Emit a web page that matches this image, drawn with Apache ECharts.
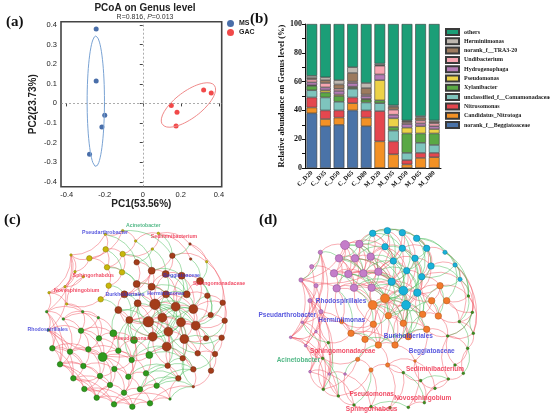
<!DOCTYPE html>
<html>
<head>
<meta charset="utf-8">
<script src="https://cdn.jsdelivr.net/npm/echarts@6/dist/echarts.min.js"></script>
<style>
html,body{margin:0;padding:0;background:#fff;}
#main{width:550px;height:418px;}
</style>
</head>
<body>
<div id="main"></div>
<script>
// ---------- (a) PCoA ----------
var msPts = [[-0.245,0.38],[-0.245,0.115],[-0.2,-0.06],[-0.215,-0.12],[-0.28,-0.26]];
var gacPts = [[0.15,-0.01],[0.18,-0.045],[0.175,-0.115],[0.32,0.068],[0.36,0.053]];
// confidence ellipses: centre, semi-axis a, semi-axis b (data units)
var msEll = {c:[-0.247,0.011], a:[0,0.333], b:[0.0456,0]};
var gacEll = {c:[0.24,-0.008], a:[0.1366,0.0998], b:[0.0421,-0.0542]};
var pcTicks = [-0.4,-0.2,0,0.2,0.4];
var pcYTicks = [-0.4,-0.3,-0.2,-0.1,0,0.1,0.2,0.3,0.4];

// ---------- (b) stacked bars ----------
var samples = ['C_D20','C_D35','C_D50','C_D65','C_D80','M_D20','M_D35','M_D50','M_D65','M_D80'];
var taxa = ['norank_f__Beggiatoaceae','Candidatus_Nitrotoga','Nitrosomonas','unclassified_f__Comamonadaceae',
  'Xylanibacter','Pseudomonas','Hydrogenophaga','Undibacterium','norank_f__TRA3-20','Herminiimonas','others'];
var beggiatoaceae = [38,29,30,40,29,0,0,0,0,0];
var nitrotoga = [4,5,5,5,6,18.5,9.5,2.5,7,7.5];
var nitrosomonas = [7,6,5,4,5,21,9,3,3.5,3];
var comamonadaceae = [5,9,6,6,5.5,5.5,7.5,5,7,5.5];
var xylanibacter = [3,3.5,4,1,2,2,2.5,13.5,6.5,8];
var pseudomonas = [0.5,1.5,1,0.5,0.5,14,6,4,5,3];
var hydrogenophaga = [2,2,2.5,2.5,2,4,2.5,2.5,2,2];
var undibacterium = [2,3,1.5,1,1,6,3.5,1,2,2];
var tra320 = [1,2,3,6,4.5,0.5,2,1,2,1];
var herminiimonas = [1.5,2,3,4,3.5,1,1,0.5,1,1];
var others = [36,37,39,30,41,27.5,56.5,67,64,67];
var taxaValues = [beggiatoaceae,nitrotoga,nitrosomonas,comamonadaceae,xylanibacter,pseudomonas,
  hydrogenophaga,undibacterium,tra320,herminiimonas,others];
var taxaColors = ['#4a73a8','#f39125','#e4474f','#7ec4bd','#5aa845','#ecd248','#b47cb6','#f7a6b1','#9c7a5e','#bfb8b0','#1b9e77'];

// ---------- (c) network: [x, y, degree] in layout units ----------
var cBrown = [[465,298,5],[445,350,5],[487,338,4],[527,305,4],[543,352,4],[505,380,4],[580,312,4],[587,362,4],
  [553,402,4],[458,395,4],[500,425,4],[455,197,3],[410,237,3],[455,245,3],[497,207,3],[560,268,3],[413,295,3],
  [355,315,3],[388,345,3],[410,172,2],[517,152,2],[545,212,3],[600,228,3],[622,272,2],[668,293,2],[632,330,2],
  [674,347,2],[618,400,2],[665,398,2],[548,460,2],[593,445,2],[645,447,2],[503,482,2],[580,493,2],[633,497,2],
  [535,520,2],[580,545,1],[572,162,1],[570,117,1],[373,268,3],[498,268,3]];
var cYellow = [[368,77,1],[316,88,1],[407,108,1],[475,85,1],[317,133,2],[368,147,2],[457,132,1],[268,160,2],
  [321,187,2],[366,202,2],[213,150,1],[225,200,1],[326,242,2],[302,283,2],[195,245,1],[147,263,1],[200,297,1],
  [620,170,1],[250,215,1]];
var cGreen = [[140,320,1],[190,342,1],[248,320,1],[295,338,1],[145,375,1],[243,377,2],[297,400,2],[340,385,3],
  [157,430,2],[210,440,2],[265,433,2],[308,456,4],[355,437,2],[402,405,3],[448,450,3],[395,465,2],[180,478,2],
  [250,483,2],[343,492,2],[300,513,2],[220,520,2],[385,515,2],[438,505,2],[330,540,2],[253,552,2],[372,563,2],
  [420,553,2],[290,578,2],[342,598,2],[397,605,2],[450,595,2],[470,542,2],[510,582,1]];
var cPosLinks = [[0,1],[0,2],[0,3],[0,5],[0,9],[0,13],[0,16],[0,40],[1,2],[1,9],[1,18],[1,5],[2,4],[2,5],[3,6],
  [3,15],[3,4],[4,7],[4,8],[5,10],[5,8],[6,7],[6,25],[7,27],[8,29],[9,10],[10,32],[11,14],[11,13],[12,39],[12,16],
  [13,40],[14,21],[15,22],[15,23],[17,18],[17,39],[16,18],[19,11],[20,14],[21,22],[23,24],[24,26],[25,26],[27,28],
  [29,33],[30,31],[31,34],[32,35],[33,36],[34,36],[7,30],[8,30],[10,29],[6,24],[26,28],[28,31],
  [0,11],[0,14],[0,15],[0,18],[1,17],[1,4],[2,3],[2,10],[3,21],[3,7],[4,10],[5,7],[6,8],[9,17],[11,12],[12,40],
  [13,14],[14,3],[16,9],[18,5],[19,12],[40,6],[39,0],[21,6],[22,6],[23,7],[25,4],[26,7],[27,8],[29,5],[30,4],
  [31,7],[32,9],[33,8],[34,28],[35,10],[24,25],[11,39],[20,11],
  [41,42],[41,43],[42,45],[43,44],[44,47],[45,46],[45,48],[46,49],[46,50],[48,51],[48,52],[49,53],[50,53],[51,52],
  [52,55],[53,54],[55,56],[56,57],[54,57],[57,59],[59,55],[47,46],[43,46],[49,50],[48,49],[44,38],[38,58],[20,58],
  [56,60],[51,60],[55,64],[57,62],[44,37],[58,24],[38,26],[51,56],[41,48],[42,51],[51,55],[52,56],[45,49],[10,64],
  [60,61],[60,64],[61,62],[62,63],[63,67],[64,68],[65,66],[65,69],[66,67],[66,71],[67,72],[67,73],[68,69],[68,76],
  [69,70],[70,71],[70,77],[71,72],[71,78],[71,79],[72,75],[73,75],[74,82],[75,81],[76,80],[77,80],[77,79],[78,83],
  [79,84],[80,84],[81,85],[82,86],[83,87],[84,87],[85,89],[86,90],[87,88],[88,89],[89,90],[90,92],[91,92],[86,91],
  [65,70],[69,77],[72,78],[75,78],[61,65],[62,65],[63,66],[76,84],[68,80],[83,85],[79,83],[81,86],[82,91],[60,68],
  [64,76],[88,85],[92,35],[90,36],[66,70],[71,83],[78,81],[69,76],[67,71],[73,81],[80,87],[84,88],[63,65],
  [60,62],[61,63],[62,66],[64,65],[65,67],[66,72],[67,75],[68,70],[69,71],[70,72],[71,75],[72,73],[73,74],[74,75],
  [76,77],[77,78],[78,79],[79,80],[80,83],[81,82],[83,84],[85,86],[87,89],[88,90],[89,91],[68,77],[76,79],[70,79],
  [71,81],[72,82],[65,71],[64,69],[61,69],[75,85],[78,85],[84,89],[87,83],[80,88],[60,76],[64,80],[76,87],[88,92]];
var cNegLinks = [[0,4],[0,6],[0,7],[1,3],[1,8],[1,10],[2,6],[2,9],[3,5],[4,5],[4,6],[5,9],[9,18],[13,3],[14,15],
  [15,6],[16,17],[12,13],[40,15],[39,16],[11,21],[20,21],[37,22],[38,20],[23,25],[7,25],[8,27],[10,33],[29,35],
  [32,33],[30,34],[4,29],[2,40],[13,39],[21,15],[22,23],[0,12],[1,16],[3,40],[6,23],[7,31],[5,32],
  [0,8],[1,6],[2,7],[3,9],[4,9],[5,6],[9,16],[10,8],[13,15],[14,40],[16,2],[17,1],[18,10],[39,18],[40,4],[21,3],
  [22,25],[24,7],[26,27],[28,8],[30,5],[31,33],[32,29],[35,33],[36,29],
  [46,11],[50,12],[53,39],[54,17],[49,12],[47,19],[42,19],[41,20],[45,50],[43,11],[44,20],[47,14],[58,22],
  [73,18],[74,9],[74,10],[75,9],[67,17],[82,32],[91,35],[86,32],[92,36],[73,1],[72,18],[75,10],
  [74,29],[81,32],[82,35],[73,16],[91,36],[75,18],[91,33],[86,35]];

// ---------- (d) network ----------
var dCyan = [[293,85,2],[337,77,2],[382,83,2],[425,100,2],[330,125,2],[382,130,2],[455,130,2],[510,142,1],
  [355,168,2],[420,160,2],[468,183,2],[540,180,1],[395,197,2],[440,215,2],[555,223,1],[350,230,3],[385,257,4],
  [427,263,3],[393,300,4]];
var dPurple = [[210,120,4],[253,117,3],[192,160,3],[240,160,3],[287,155,3],[136,142,1],[110,185,1],[177,205,3],
  [220,207,3],[265,205,3],[310,200,3],[78,225,1],[123,242,1],[185,250,3],[237,248,3],[290,248,3],[105,287,1],
  [138,320,1],[82,352,0],[123,380,0],[47,397,0],[92,422,0],[105,500,0],[163,507,0],[210,507,0]];
var dOrange = [[293,300,4],[330,280,4],[495,242,2],[470,287,2],[515,287,2],[443,328,2],[490,333,2],[385,355,2],
  [340,332,2],[295,358,2],[200,350,1],[228,385,2],[270,403,2],[310,420,2],[360,420,2],[400,395,2],[455,373,2],
  [248,463,1],[288,495,1],[338,480,1],[420,468,0]];
var dGreen = [[580,273,0],[592,322,0],[553,350,0],[595,385,0],[518,393,0],[578,430,0],[160,413,0],[143,460,0],
  [385,503,0],[437,527,0],[480,550,0],[520,522,0],[565,505,0],[145,553,0],[190,573,0],[237,600,0],[288,605,0],
  [345,608,0],[400,607,0],[448,593,0],[540,480,0]];
var dPosLinks = [[0,1],[1,2],[2,3],[0,4],[4,5],[5,6],[6,7],[3,6],[4,8],[8,9],[9,10],[10,11],[9,12],[12,13],[13,14],
  [8,15],[15,16],[16,17],[17,18],[16,18],[12,16],[13,17],[10,13],[11,14],[5,9],[2,5],[1,4],[15,12],[6,10],[7,11],
  [19,20],[19,21],[20,22],[20,23],[21,22],[22,23],[21,26],[22,27],[23,28],[23,29],[26,27],[27,28],[28,29],[26,32],
  [27,33],[28,34],[32,33],[33,34],[24,19],[24,25],[25,30],[30,31],[31,32],[25,26],[31,35],[35,36],[36,37],[37,38],
  [38,39],[39,40],[40,41],[41,42],[42,43],[35,39],[36,38],[30,39],[38,42],[19,22],[21,27],[22,28],
  [23,4],[29,8],[29,15],[34,15],[20,0],[28,4],[19,26],[20,27],[21,32],[23,34],
  [0,8],[1,5],[2,9],[3,10],[4,12],[5,13],[6,13],[8,12],[9,17],[12,18],[15,17],[10,17],[19,27],[20,28],[21,33],
  [22,29],[23,15],[26,34],[27,15],[28,16],[29,16],[32,44],[33,45],[34,18],[19,4],[20,8],[22,15],[27,16],[33,16],
  [44,18],[45,17],[52,18],[51,17],[59,17],[49,16],[53,33],[55,32],[56,44],[57,45],[58,18],[60,17],[50,13],[47,16],
  [46,17],[0,23],[1,29],[2,29],[5,15],[9,16],[12,15],[29,4],[21,28],[22,33],[26,28],[32,34],[44,57],[45,58],
  [52,59],[51,60],[53,57],[55,58],[44,55],[45,56],
  [44,45],[44,52],[45,52],[52,51],[51,59],[59,60],[60,49],[49,50],[50,48],[48,46],[46,47],[47,49],[44,53],[53,55],
  [55,56],[56,57],[57,58],[58,59],[53,54],[54,55],[52,57],[51,58],[45,51],[56,61],[61,62],[62,63],[63,64],[57,63],
  [58,64],[60,64],[53,56],[45,15],[45,16],[44,34],[44,29],[18,51],[18,45],[17,47],[17,46],[16,44],[33,44],[32,54],
  [34,45],[13,46],[18,49],[16,52],[15,34],[17,50],
  [65,66],[66,67],[67,68],[68,69],[69,70],[70,85],[85,77],[77,76],[76,75],[75,74],[74,73],[73,82],[82,81],[81,80],
  [80,79],[79,78],[78,72],[72,71],[71,36],[72,40],[78,41],[79,42],[80,43],[62,81],[63,82],[64,83],[83,84],[84,75],
  [73,63],[74,64],[69,60],[67,50],[65,48],[66,48],[68,70],[55,71],[61,72],[85,69],[77,70],[84,76],[76,69],[39,72],
  [40,78],[36,55],[54,36],[41,79],[30,40],[35,41],[37,78],[39,79],[65,68],[66,69],[42,80],[43,81],[74,84],
  [24,37],[25,39],[30,41],[31,40],[35,42],[19,30],[24,39],[14,66],[11,66],[14,67],[48,67],[46,65],[50,69],
  [60,69],[64,75],[63,73],[62,79],[61,78],[30,78],[24,40],[5,30],[11,68]];
var dNegLinks = [[0,2],[1,3],[3,7],[7,14],[2,6],[5,8],[9,13],[6,9],[10,14],[12,17],[8,16],[15,18],[11,13],
  [19,23],[20,21],[26,33],[27,34],[24,21],[29,34],[32,27],[24,30],[23,0],[34,16],[29,12],[28,8],[22,4],[33,15],
  [20,1],[44,51],[45,49],[47,50],[52,53],[55,57],[58,60],[46,50],[59,49],[61,57],[18,52],[16,45],[17,49],[15,44],
  [34,52],[14,46],[11,48],[65,67],[66,69],[67,70],[14,65],[11,65],[73,84],[62,80],[71,78],[72,79],[43,61],[81,83],
  [74,76],[70,77],[68,66],[18,59],[4,9],[3,10],[21,28],[0,5],
  [1,8],[2,12],[3,13],[4,15],[6,12],[8,17],[9,18],[10,16],[12,44],[13,45],[15,52],[16,51],[17,59],[18,58],[19,28],
  [20,29],[21,34],[22,15],[23,16],[26,44],[27,45],[28,52],[29,18],[33,53],[32,55],[34,51],[44,58],[45,60],[52,49],
  [51,47],[56,58],[57,59],[49,46],[4,16],[5,17],[9,15],[23,8],[28,15],[7,65],[3,11],[0,19],[1,20],[71,37]];

// ---------- network labels: [name, x, y, kind] ----------
var cLabels = [['Acinetobacter',430,63,'g'],['Pseudarthrobacter',315,84,'b'],['Sediminibacterium',522,96,'r'],
  ['Sphingorhabdus',280,213,'r'],['Beggiatoaceae',545,213,'b'],['Sphingomonadaceae',657,235,'r'],
  ['Novosphingobium',230,258,'r'],['Burkholderiales',375,268,'b'],['Herminiimonas',498,265,'b'],
  ['Rhodospirillales',143,373,'b'],['Pseudomonas',395,402,'r']];
var dLabels = [['Rhodospirillales',198,290,'b'],['Pseudarthrobacter',37,330,'b'],['Herminiimonas',200,345,'b'],
  ['Burkholderiales',400,395,'b'],['Beggiatoaceae',470,440,'b'],['Sphingomonadaceae',203,440,'r'],
  ['Acinetobacter',70,465,'g'],['Sediminibacterium',480,492,'r'],['Pseudomonas',290,567,'r'],
  ['Novosphingobium',443,580,'r'],['Sphingorhabdus',290,613,'r']];

var serif = '"Liberation Serif", "Times New Roman", serif';
var sans = '"Liberation Sans", Arial, sans-serif';
var labelColors = {b:'#2d2dd6', r:'#ee2040', g:'#29a86a'};

function ellipse(e) {
  var pts = [];
  for (var k = 0; k <= 72; k++) {
    var t = k / 72 * Math.PI * 2;
    pts.push([e.c[0] + e.a[0]*Math.cos(t) + e.b[0]*Math.sin(t),
              e.c[1] + e.a[1]*Math.cos(t) + e.b[1]*Math.sin(t)]);
  }
  return pts;
}

// build graph data from module arrays
function buildNet(mods, sizeMap, pos, neg) {
  var data = [];
  mods.forEach(function (m) {
    m.nodes.forEach(function (n) {
      data.push({value:[n[0], n[1]], symbolSize:sizeMap[n[2]],
        itemStyle:{color:m.color, borderColor:m.border, borderWidth:0.5}});
    });
  });
  var links = [];
  pos.forEach(function (l) {
    links.push({source:l[0], target:l[1], lineStyle:{color:'#f0505e', opacity:0.55}});
  });
  neg.forEach(function (l) {
    links.push({source:l[0], target:l[1], lineStyle:{color:'#3fb84f', opacity:0.55}});
  });
  return {data:data, links:links};
}

var netC = buildNet([
  {nodes:cBrown, color:'#a43c1a', border:'#6a2810'},
  {nodes:cYellow, color:'#c8b70a', border:'#857a06'},
  {nodes:cGreen, color:'#2f9a1c', border:'#1d6410'}
], [0,2.5,5.5,7,9,10.5], cPosLinks, cNegLinks);
var netD = buildNet([
  {nodes:dCyan, color:'#18b2da', border:'#0b7896'},
  {nodes:dPurple, color:'#c47dc9', border:'#8a4c8e'},
  {nodes:dOrange, color:'#f27a2c', border:'#b0541a'},
  {nodes:dGreen, color:'#3e8f1e', border:'#2a6614'}
], [2.7,4.3,6.5,7.5,9], dPosLinks, dNegLinks);

function labelData(list) {
  return list.map(function (l) {
    return {name:l[0], value:[l[1], l[2]], label:{color:labelColors[l[3]]}};
  });
}

var chart = echarts.init(document.getElementById('main'));

var barSeries = taxa.map(function (name, i) {
  return {
    name:name, type:'bar', stack:'genus', xAxisIndex:1, yAxisIndex:1,
    data:taxaValues[i], barCategoryGap:'21%',
    itemStyle:{color:taxaColors[i], borderColor:'#3a3a3a', borderWidth:0.6}
  };
});

function panelTitle(txt, x, y) {
  return {text:txt, left:x, top:y, padding:0,
    textStyle:{fontFamily:serif, fontWeight:'bold', fontSize:15, color:'#111'}};
}

var hidden = {show:false};

var option = {
  animation:false,
  backgroundColor:'#fff',
  title:[
    panelTitle('(a)', 6, 15), panelTitle('(b)', 250, 12),
    panelTitle('(c)', 4, 213), panelTitle('(d)', 259, 213),
    {text:'PCoA on Genus level', subtext:'{n|R=0.816, }{i|P}{n|=0.013}', left:145, top:3, padding:0,
     textAlign:'center', itemGap:1,
     textStyle:{fontFamily:sans, fontWeight:'bold', fontSize:10, color:'#222'},
     subtextStyle:{rich:{n:{fontFamily:sans, fontSize:7, color:'#333'},
                         i:{fontFamily:sans, fontSize:7, fontStyle:'italic', color:'#333'}}}}
  ],
  legend:[
    {data:['MS','GAC'], orient:'vertical', left:227, top:20, itemWidth:7, itemHeight:7, itemGap:2,
     icon:'circle', textStyle:{fontFamily:sans, fontWeight:'bold', fontSize:7, color:'#222'}, padding:0},
    {data:taxa.slice().reverse(), orient:'vertical', left:445, top:28, itemWidth:13, itemHeight:6,
     itemGap:1.3, icon:'rect', padding:0,
     textStyle:{fontFamily:serif, fontWeight:'bold', fontSize:6, color:'#222', lineHeight:6}}
  ],
  grid:[
    {left:61, top:21.7, width:160.7, height:165, show:true, borderColor:'#444', borderWidth:1.6},
    {left:305, top:24, width:136, height:144},
    {left:0, top:205, width:270, height:213},
    {left:275, top:205, width:275, height:213}
  ],
  xAxis:[
    {gridIndex:0, type:'value', min:-0.43, max:0.415,
     axisLine:hidden, splitLine:hidden,
     axisTick:{show:true, customValues:pcTicks, length:3, lineStyle:{color:'#444'}},
     axisLabel:{customValues:pcTicks, fontFamily:sans, fontSize:7.5, color:'#222', margin:4},
     name:'PC1(53.56%)', nameLocation:'middle', nameGap:12,
     nameTextStyle:{fontFamily:sans, fontWeight:'bold', fontSize:10, color:'#222'}},
    {gridIndex:1, type:'category', data:samples,
     axisLine:{lineStyle:{color:'#111', width:1}},
     axisTick:{alignWithLabel:true, length:3, lineStyle:{color:'#111'}},
     axisLabel:{rotate:45, fontFamily:serif, fontWeight:'bold', fontSize:6.5, color:'#111', margin:4}},
    {gridIndex:2, type:'value', min:0, max:810, show:false},
    {gridIndex:3, type:'value', min:0, max:825, show:false}
  ],
  yAxis:[
    {gridIndex:0, type:'value', min:-0.425, max:0.417,
     axisLine:hidden, splitLine:hidden,
     axisTick:{show:true, customValues:pcYTicks, length:3, lineStyle:{color:'#444'}},
     axisLabel:{customValues:pcYTicks, fontFamily:sans, fontSize:7.5, color:'#222', margin:4},
     name:'PC2(23.73%)', nameLocation:'middle', nameGap:23,
     nameTextStyle:{fontFamily:sans, fontWeight:'bold', fontSize:10, color:'#222'}},
    {gridIndex:1, type:'value', min:0, max:100, interval:10,
     axisLine:{show:true, lineStyle:{color:'#111', width:1}}, splitLine:hidden,
     axisTick:{show:true, length:3, lineStyle:{color:'#111'}},
     axisLabel:{fontFamily:serif, fontWeight:'bold', fontSize:8, color:'#111', margin:3,
       formatter:function (v) { return v % 20 === 0 ? String(v) : ''; }},
     name:'Relative abundance on Genus level (%)', nameLocation:'middle', nameGap:18,
     nameTextStyle:{fontFamily:serif, fontWeight:'bold', fontSize:8.5, color:'#111'}},
    {gridIndex:2, type:'value', min:0, max:639, inverse:true, show:false},
    {gridIndex:3, type:'value', min:0, max:639, inverse:true, show:false}
  ],
  series:[
    {name:'MS ellipse', type:'line', xAxisIndex:0, yAxisIndex:0, data:ellipse(msEll), showSymbol:false,
     symbol:'none', lineStyle:{color:'#7aa3d4', width:1}, silent:true,
     markLine:{silent:true, symbol:'none', label:{show:false},
       lineStyle:{color:'#888', type:[2,2], width:0.7},
       data:[{xAxis:0},{yAxis:0}]}},
    {name:'GAC ellipse', type:'line', xAxisIndex:0, yAxisIndex:0, data:ellipse(gacEll), showSymbol:false,
     symbol:'none', lineStyle:{color:'#f08a8a', width:1}, silent:true},
    {name:'MS', type:'scatter', xAxisIndex:0, yAxisIndex:0, data:msPts, symbolSize:5,
     itemStyle:{color:'#1c4a94'}},
    {name:'GAC', type:'scatter', xAxisIndex:0, yAxisIndex:0, data:gacPts, symbolSize:5,
     itemStyle:{color:'#ee1c1c'}}
  ].concat(barSeries).concat([
    {type:'graph', coordinateSystem:'cartesian2d', xAxisIndex:2, yAxisIndex:2, layout:'none',
     data:netC.data, links:netC.links, silent:true,
     lineStyle:{width:0.85, curveness:0.3}},
    {type:'graph', coordinateSystem:'cartesian2d', xAxisIndex:3, yAxisIndex:3, layout:'none',
     data:netD.data, links:netD.links, silent:true,
     lineStyle:{width:0.85, curveness:0.3}},
    {type:'scatter', xAxisIndex:2, yAxisIndex:2, data:labelData(cLabels), symbolSize:0, z:10, silent:true,
     label:{show:true, position:'inside', formatter:'{b}', fontFamily:sans, fontWeight:'bold', fontSize:5.2}},
    {type:'scatter', xAxisIndex:3, yAxisIndex:3, data:labelData(dLabels), symbolSize:0, z:10, silent:true,
     label:{show:true, position:'inside', formatter:'{b}', fontFamily:sans, fontWeight:'bold', fontSize:6.5}}
  ])
};

chart.setOption(option);
</script>
</body>
</html>
